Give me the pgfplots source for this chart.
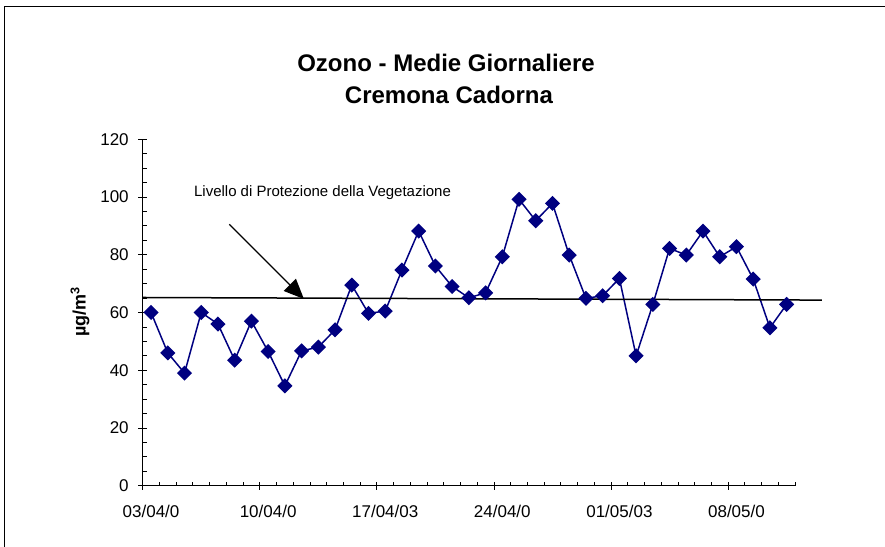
\documentclass[border=0pt]{standalone}
\usepackage{fontspec}
\setmainfont{Liberation Sans}
\usepackage{pgfplots}
\pgfplotsset{compat=1.18}
\usetikzlibrary{arrows.meta}
\definecolor{navyblue}{RGB}{0,0,128}
\begin{document}
\begin{tikzpicture}
\useasboundingbox (0,0) rectangle (885bp,547bp);
\draw[line width=1.3bp] (4.8bp,0) -- (4.8bp,540.5bp) -- (885bp,540.5bp);
\node[font=\bfseries\fontsize{24bp}{28bp}\selectfont] at (446bp,484bp) {Ozono - Medie Giornaliere};
\node[font=\bfseries\fontsize{24bp}{28bp}\selectfont] at (449bp,452bp) {Cremona Cadorna};
\node[font=\bfseries\fontsize{18bp}{21bp}\selectfont, rotate=90] at (80bp,235bp) {µg/m\textsuperscript{3}};
\begin{axis}[
  scale only axis,
  width=652.3bp, height=346.4bp,
  at={(142.7bp,61.3bp)}, anchor=south west,
  axis lines=left,
  axis line style={-, line width=0.8bp},
  xmin=0, xmax=39, ymin=0, ymax=120,
  enlargelimits=false,
  clip=false,
  tick align=inside,
  major tick length=4bp,
  tick style={black, line width=0.8bp},
  xtick={0,1,...,39},
  xticklabels={,,,,,,,,,,,,,,,,,,,,,,,,,,,,,,,,,,,,,,,,},
  ytick={0,5,...,120},
  yticklabels={,,,,,,,,,,,,,,,,,,,,,,,,,},
  extra x ticks={0,7,14,21,28,35},
  extra x tick labels={03/04/0,10/04/0,17/04/03,24/04/0,01/05/03,08/05/0},
  extra x tick style={tick align=outside, major tick length=4bp},
  xticklabel style={xshift=8.36bp, yshift=-12bp},
  yticklabel style={xshift=-6bp},
  extra y ticks={0,20,40,60,80,100,120},
  extra y tick labels={0,20,40,60,80,100,120},
  extra y tick style={tick align=center, major tick length=9bp},
  ticklabel style={font=\fontsize{17bp}{20bp}\selectfont},
  /pgf/number format/assume math mode=true,
]
\addplot[navyblue, line width=1.5bp, mark=square*, mark size=4.6bp,
  mark options={rotate=45, solid, fill=navyblue}] coordinates {
(0.5,60) (1.5,46) (2.5,39) (3.5,60) (4.5,56) (5.5,43.5) (6.5,57) (7.5,46.5)
(8.5,34.6) (9.5,46.7) (10.5,48) (11.5,54) (12.5,69.5) (13.5,59.7) (14.5,60.5)
(15.5,74.7) (16.5,88.2) (17.5,76.1) (18.5,69) (19.5,65.1) (20.5,66.8)
(21.5,79.3) (22.5,99.2) (23.5,91.8) (24.5,97.8) (25.5,79.9) (26.5,64.9)
(27.5,65.8) (28.5,71.8) (29.5,45.0) (30.5,62.8) (31.5,82.2) (32.5,79.9)
(33.5,88.2) (34.5,79.3) (35.5,82.8) (36.5,71.6) (37.5,54.7) (38.5,62.8)
};
\addplot[black, line width=1.5bp, mark=none] coordinates {(0,65.2) (40.6,64.3)};
\draw[black, line width=1.3bp, -{Triangle[length=20bp, width=17bp]}] (axis cs:5.18,90.55) -- (axis cs:9.64,64.68);
\node[font=\fontsize{15bp}{17bp}\selectfont] at (axis cs:10.75,101.5) {Livello di Protezione della Vegetazione};
\end{axis}
\end{tikzpicture}
\end{document}
